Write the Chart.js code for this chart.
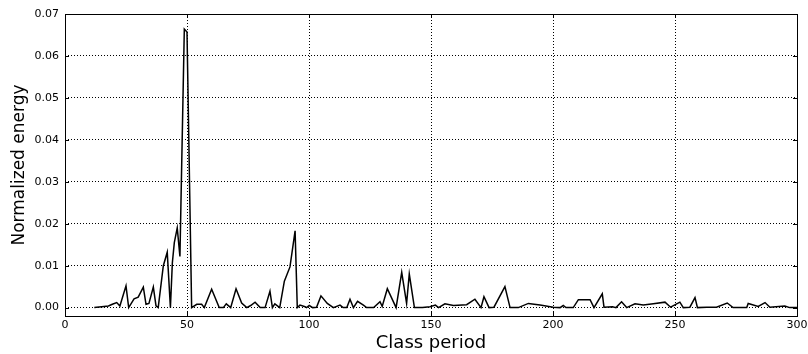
<!DOCTYPE html>
<html>
<head>
<meta charset="utf-8">
<script src="https://cdn.jsdelivr.net/npm/chart.js@4.4.0/dist/chart.umd.min.js"></script>
<style>
  html, body { margin: 0; padding: 0; background: #fff; }
  #wrap { width: 808px; height: 354px; }
</style>
</head>
<body>
<div id="wrap"><canvas id="myChart" width="808" height="354"></canvas></div>
<script>
// class period (x) and normalized energy (y)
const periods = [
  12, 15, 17.8, 19.4, 21.2, 22.5, 25, 26.1, 28.3, 30,
  32.1, 33.2, 34.4, 36.2, 37.3, 38.2, 40.3, 41.9, 43.2, 44,
  44.8, 46, 47.1, 48.9, 50, 51.9, 54, 56, 57.1, 60.1,
  63.2, 64.9, 66.1, 67.9, 70.1, 72.4, 74.5, 76.1, 77.9, 80,
  82, 84, 85, 86, 88, 89.9, 92.2, 94.3, 95.2, 96.3,
  98.4, 99, 100.1, 101.5, 103.1, 104.9, 107.5, 110, 112.7, 114,
  115.5, 116.8, 118.2, 119.9, 122.3, 123.6, 126.5, 129.1, 130, 132.1,
  135.7, 138, 140, 141.1, 143.2, 146.5, 149.6, 151.8, 153.1, 155.7,
  159.2, 164.6, 168, 170.5, 171.7, 173.8, 175.8, 180.3, 182.4, 185.8,
  189.9, 194.7, 200.1, 202.9, 204.2, 205.3, 208.3, 210.4, 215.2, 216.8,
  220.2, 220.9, 224.4, 225.8, 228.1, 230.2, 233.6, 237, 241.1, 245.9,
  248.2, 252, 253.4, 256.1, 258.2, 259.2, 263, 267, 271.4, 273.8,
  279.4, 280, 284.1, 286.9, 288.9, 295, 297, 300
];
const energy = [
  0, 0.0002, 0.0004, 0.0008, 0.0012, 0.0004, 0.0052, 0, 0.0021, 0.0025,
  0.0049, 0.0008, 0.001, 0.0049, 0.0004, 0, 0.0100, 0.0132, 0, 0.0107,
  0.0155, 0.019, 0.0122, 0.0664, 0.0657, 0, 0.0008, 0.0008, 0, 0.0044,
  0, 0, 0.0009, 0, 0.0045, 0.0011, 0, 0.0005, 0.0013, 0,
  0, 0.0039, 0, 0.0009, 0, 0.0063, 0.0097, 0.0183, 0, 0.0006,
  0.0002, 0, 0.0005, 0, 0.0001, 0.0028, 0.0010, 0, 0.0006, 0,
  0, 0.0020, 0, 0.0015, 0.0006, 0, 0, 0.0014, 0.0003, 0.0045,
  0, 0.0084, 0.0010, 0.0080, 0, 0, 0.0002, 0.0006, 0, 0.0009,
  0.0005, 0.0007, 0.0020, 0, 0.0026, 0, 0.0001, 0.0050, 0, 0,
  0.0010, 0.0006, 0.0001, 0, 0.0005, 0, 0, 0.0019, 0.0019, 0,
  0.0033, 0.0001, 0.0002, 0, 0.0014, 0, 0.0009, 0.0006, 0.0009, 0.0013,
  0.0001, 0.0013, 0, 0.0001, 0.0024, 0, 0.0001, 0.0001, 0.0011, 0,
  0, 0.0010, 0.0003, 0.0012, 0.0001, 0.0004, 0, 0
];
const xTicks = [0, 50, 100, 150, 200, 250, 300];
const yTicks = [0, 0.01, 0.02, 0.03, 0.04, 0.05, 0.06, 0.07];

const pts = periods.map((p, i) => ({ x: p, y: energy[i] }));

// frame + inward tick marks, matplotlib style
const frame = {
  id: 'frame',
  afterDraw(chart) {
    const { ctx, chartArea: a, scales } = chart;
    ctx.save();
    ctx.strokeStyle = '#000';
    ctx.lineWidth = 1;
    ctx.beginPath();
    xTicks.forEach(v => {
      const px = Math.round(scales.x.getPixelForValue(v)) + 0.5;
      ctx.moveTo(px, a.bottom); ctx.lineTo(px, a.bottom - 4);
      ctx.moveTo(px, a.top); ctx.lineTo(px, a.top + 4);
    });
    yTicks.forEach(v => {
      const py = Math.round(scales.y.getPixelForValue(v)) + 0.5;
      ctx.moveTo(a.left, py); ctx.lineTo(a.left + 4, py);
      ctx.moveTo(a.right, py); ctx.lineTo(a.right - 4, py);
    });
    ctx.stroke();
    ctx.strokeRect(Math.round(a.left) + 0.5, Math.round(a.top) + 0.5,
      Math.round(a.right - a.left), Math.round(a.bottom - a.top));
    ctx.restore();
  }
};

const criandografico = document.getElementById('myChart');
new Chart(criandografico, {
  type: 'line',
  data: {
    datasets: [{
      data: pts,
      borderColor: '#000',
      borderWidth: 1.5,
      pointRadius: 0,
      tension: 0,
      fill: false
    }]
  },
  options: {
    responsive: false,
    animation: false,
    layout: { padding: { top: 14, right: 11, left: 0, bottom: 0 } },
    plugins: { legend: { display: false }, tooltip: { enabled: false } },
    scales: {
      x: {
        type: 'linear',
        min: 0,
        max: 300,
        afterBuildTicks: s => { s.ticks = xTicks.map(v => ({ value: v })); },
        afterFit: s => { s.height = 38; s.paddingLeft = 0; s.paddingRight = 0; },
        grid: { color: '#000', lineWidth: 1, drawTicks: false },
        border: { display: false, dash: [1, 2] },
        ticks: {
          color: '#000',
          padding: 3,
          maxRotation: 0,
          font: { family: 'DejaVu Sans', size: 11 },
          callback: v => String(v)
        },
        title: {
          display: true,
          text: 'Class period',
          color: '#000',
          padding: { top: 0, bottom: 0 },
          font: { family: 'DejaVu Sans', size: 18 }
        }
      },
      y: {
        min: -0.002,
        max: 0.07,
        afterBuildTicks: s => { s.ticks = yTicks.map(v => ({ value: v })); },
        afterFit: s => { s.width = 65; s.paddingTop = 0; s.paddingBottom = 0; },
        grid: { color: '#000', lineWidth: 1, drawTicks: false },
        border: { display: false, dash: [1, 2] },
        ticks: {
          color: '#000',
          padding: 6,
          font: { family: 'DejaVu Sans', size: 11 },
          callback: v => v.toFixed(2)
        },
        title: {
          display: true,
          text: 'Normalized energy',
          color: '#000',
          padding: { top: 9, bottom: 0 },
          font: { family: 'DejaVu Sans', size: 17 }
        }
      }
    }
  },
  plugins: [frame]
});
</script>
</body>
</html>
